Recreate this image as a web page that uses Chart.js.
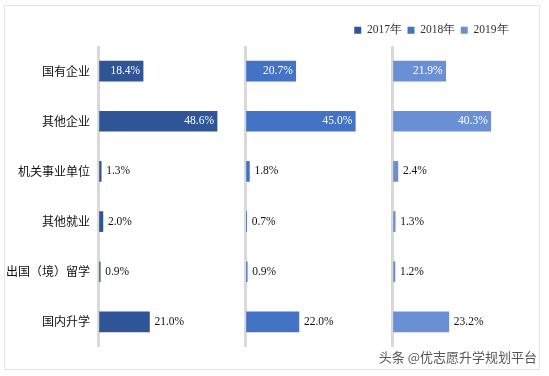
<!DOCTYPE html>
<html>
<head>
<meta charset="utf-8">
<script src="https://cdn.jsdelivr.net/npm/chart.js@4"></script>
<style>
  html, body { margin: 0; padding: 0; background: #fff; }
  #wrap { position: relative; width: 549px; height: 376px; }
  #frame { position: absolute; left: 4px; top: 5px; width: 536px; height: 365px; border: 1px solid #e3e3e3; box-sizing: border-box; pointer-events: none; }
  #src { position: absolute; right: 12px; top: 347px; font: 13px "Noto Sans CJK SC", sans-serif; color: #555; white-space: nowrap; }
  canvas { position: absolute; left: 0; top: 0; }
</style>
</head>
<body>
<div id="wrap">
  <canvas id="c" width="549" height="376"></canvas>
  <div id="frame"></div>
  <div id="src">头条 @优志愿升学规划平台</div>
</div>
<script>
const categories = ['国有企业', '其他企业', '机关事业单位', '其他就业', '出国（境）留学', '国内升学'];
const years = ['2017年', '2018年', '2019年'];
const values2017 = [18.4, 48.6, 1.3, 2.0, 0.9, 21.0];
const values2018 = [20.7, 45.0, 1.8, 0.7, 0.9, 22.0];
const values2019 = [21.9, 40.3, 2.4, 1.3, 1.2, 23.2];
const colors = ['#2F5597', '#4472C4', '#6A8FD4'];
const insideCategories = ['国有企业', '其他企业'];

const labelPlugin = {
  id: 'barLabels',
  afterDatasetsDraw(chart) {
    const ctx = chart.ctx;
    ctx.save();
    ctx.font = '11.5px "Liberation Serif", "Times New Roman", serif';
    ctx.textBaseline = 'middle';
    chart.data.datasets.forEach((ds, di) => {
      const meta = chart.getDatasetMeta(di);
      meta.data.forEach((bar, i) => {
        const txt = ds.data[i].toFixed(1) + '%';
        const cat = chart.data.labels[i];
        if (insideCategories.includes(cat)) {
          ctx.fillStyle = '#ffffff';
          ctx.textAlign = 'right';
          ctx.fillText(txt, bar.x - 3, bar.y);
        } else {
          ctx.fillStyle = '#111111';
          ctx.textAlign = 'left';
          ctx.fillText(txt, bar.x + 5, bar.y);
        }
      });
    });
    ctx.restore();
  }
};

const legendShift = {
  id: 'legendShift',
  afterLayout(chart) {
    if (chart.legend) { chart.legend.right -= 25; }
  }
};

function xScale() {
  return {
    type: 'linear',
    position: 'bottom',
    stack: 'panels',
    stackWeight: 1,
    min: 0,
    max: 60,
    ticks: { display: false, stepSize: 60 },
    border: { display: false },
    grid: {
      drawTicks: false,
      lineWidth: 3,
      color: c => (c.tick && c.tick.value === 0) ? '#d9d9d9' : 'rgba(0,0,0,0)'
    }
  };
}

const seriesList = [values2017, values2018, values2019];

new Chart(document.getElementById('c'), {
  type: 'bar',
  data: {
    labels: categories,
    datasets: seriesList.map((vals, k) => ({
      label: years[k],
      data: vals,
      backgroundColor: colors[k],
      xAxisID: 'x' + (k + 1),
      grouped: false,
      barThickness: 20
    }))
  },
  options: {
    indexAxis: 'y',
    responsive: false,
    animation: false,
    layout: { padding: { top: 19, right: 10, bottom: 29, left: 0 } },
    plugins: {
      legend: {
        position: 'top',
        align: 'end',
        labels: {
          boxWidth: 7,
          boxHeight: 7,
          padding: 5.5,
          color: '#333',
          font: { family: '"Liberation Serif", "Times New Roman", serif', size: 11.5 }
        }
      },
      tooltip: { enabled: false }
    },
    scales: {
      y: {
        grid: { display: false, drawTicks: false },
        border: { display: false },
        ticks: {
          color: '#111',
          padding: 8,
          font: { family: '"Noto Sans CJK SC", sans-serif', size: 12 }
        },
        afterFit: s => { s.width = 98; }
      },
      x1: xScale(),
      x2: xScale(),
      x3: xScale()
    }
  },
  plugins: [labelPlugin, legendShift]
});
</script>
</body>
</html>
